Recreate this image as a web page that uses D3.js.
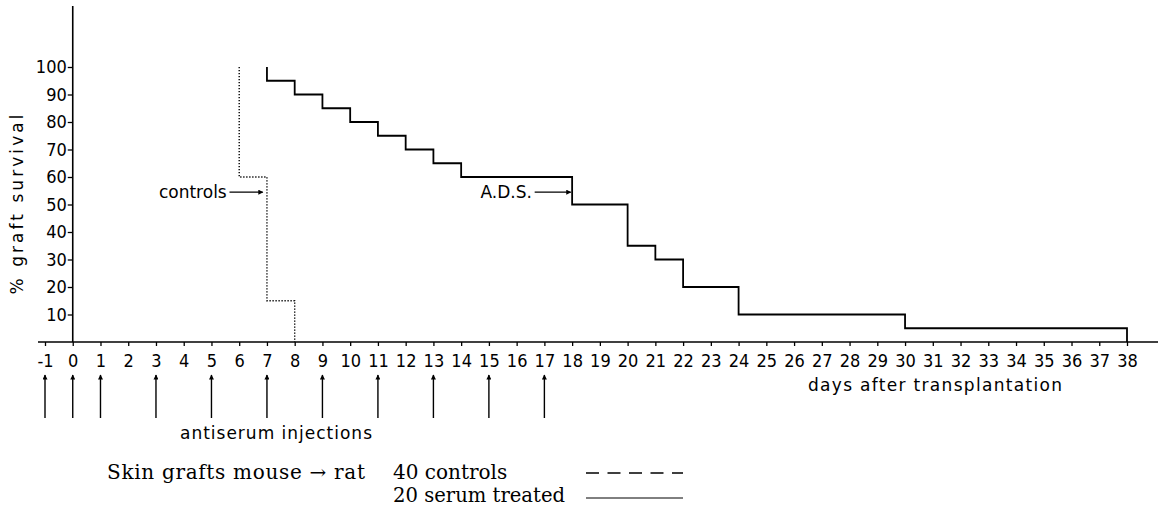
<!DOCTYPE html>
<html><head><meta charset="utf-8">
<script src="https://cdn.jsdelivr.net/npm/d3@7"></script>
<style>
body{margin:0;background:#fff;}
svg{display:block;}
.sans{font-family:"DejaVu Sans Condensed","DejaVu Sans",sans-serif;font-stretch:condensed;}
.lab{font-family:"DejaVu Sans",sans-serif;}
.serif{font-family:"DejaVu Serif","Liberation Serif",serif;}
</style></head>
<body>
<svg id="c" width="1161" height="513"></svg>
<script>
// ---- data ----
const dayTicks = d3.range(-1, 39);
const survivalTicks = [10,20,30,40,50,60,70,80,90,100];
const controlsDays   = [6, 6, 7, 7, 8, 8];
const controlsValues = [100, 60, 60, 15, 15, 0];
const adsDays   = [7, 7, 8, 8, 9, 9, 10, 10, 11, 11, 12, 12, 13, 13, 14, 14, 18, 18, 20, 20, 21, 21, 22, 22, 24, 24, 30, 30, 38, 38];
const adsValues = [100, 95, 95, 90, 90, 85, 85, 80, 80, 75, 75, 70, 70, 65, 65, 60, 60, 50, 50, 35, 35, 30, 30, 20, 20, 10, 10, 5, 5, 0];
const injectionDays = [-1, 0, 1, 3, 5, 7, 9, 11, 13, 15, 17];

const svg = d3.select("#c");
const x = d3.scaleLinear().domain([-1, 38]).range([45, 1127]);
const y = d3.scaleLinear().domain([0, 100]).range([342, 67]);

// axes lines
svg.append("line").attr("x1", 38).attr("x2", 1158).attr("y1", y(0)).attr("y2", y(0))
  .attr("stroke", "#000").attr("stroke-width", 1.6);
svg.append("line").attr("x1", x(0)).attr("x2", x(0)).attr("y1", y(0)).attr("y2", 6)
  .attr("stroke", "#000").attr("stroke-width", 1.6);

const xAxis = svg.append("g").attr("class", "sans").attr("transform", `translate(0,${y(0)})`)
  .call(d3.axisBottom(x).tickValues(dayTicks).tickSize(4).tickPadding(8).tickFormat(d => String(d)));
xAxis.select(".domain").remove();
xAxis.selectAll("line").attr("stroke-width", 1.3);
xAxis.selectAll("text").attr("font-size", 18).attr("fill", "#000").attr("font-family", null);

const yAxis = svg.append("g").attr("class", "sans").attr("transform", `translate(${x(0)},0)`)
  .call(d3.axisLeft(y).tickValues(survivalTicks).tickSize(5).tickPadding(1));
yAxis.select(".domain").remove();
yAxis.selectAll("line").attr("stroke-width", 1.3);
yAxis.selectAll("text").attr("font-size", 18).attr("fill", "#000").attr("font-family", null);

// y label
svg.append("text").attr("class", "lab").attr("transform", `translate(23,${y(50)}) rotate(-90)`)
  .attr("text-anchor", "middle").attr("font-size", 17).attr("textLength", 180).attr("lengthAdjust", "spacing")
  .text("% graft survival");
// x label
svg.append("text").attr("class", "lab").attr("x", 808).attr("y", 391)
  .attr("font-size", 17).attr("textLength", 254).attr("lengthAdjust", "spacing").text("days after transplantation");

// series
const line = d3.line().x(d => x(d[0])).y(d => y(d[1]));
svg.append("path").datum(controlsDays.map((d, i) => [d, controlsValues[i]]))
  .attr("d", line).attr("fill", "none").attr("stroke", "#000").attr("stroke-width", 1.4)
  .attr("stroke-dasharray", "1.3,1.7");
svg.append("path").datum(adsDays.map((d, i) => [d, adsValues[i]]))
  .attr("d", line).attr("fill", "none").attr("stroke", "#000").attr("stroke-width", 1.8);

// arrow marker
const defs = svg.append("defs");
defs.append("marker").attr("id", "ah").attr("viewBox", "0 0 10 10").attr("refX", 9).attr("refY", 5)
  .attr("markerWidth", 8).attr("markerHeight", 5).attr("markerUnits", "userSpaceOnUse")
  .attr("orient", "auto").append("path").attr("d", "M0,0L10,5L0,10Z").attr("fill", "#000");

// annotations
svg.append("text").attr("class", "lab").attr("x", x(5.55)).attr("y", y(52.5)).attr("text-anchor", "end")
  .attr("font-size", 17).text("controls");
svg.append("line").attr("x1", x(5.65)).attr("x2", x(6.85)).attr("y1", y(54.5)).attr("y2", y(54.5))
  .attr("stroke", "#000").attr("stroke-width", 1.3).attr("marker-end", "url(#ah)");
svg.append("text").attr("class", "lab").attr("x", x(16.55)).attr("y", y(52.5)).attr("text-anchor", "end")
  .attr("font-size", 17).text("A.D.S.");
svg.append("line").attr("x1", x(16.65)).attr("x2", x(17.95)).attr("y1", y(54.5)).attr("y2", y(54.5))
  .attr("stroke", "#000").attr("stroke-width", 1.3).attr("marker-end", "url(#ah)");

// injection arrows
svg.append("g").selectAll("line").data(injectionDays).join("line")
  .attr("x1", d => x(d)).attr("x2", d => x(d)).attr("y1", 418).attr("y2", 375)
  .attr("stroke", "#000").attr("stroke-width", 1.4).attr("marker-end", "url(#ah)");
svg.append("text").attr("class", "lab").attr("x", 180).attr("y", 439)
  .attr("font-size", 17).attr("textLength", 192).attr("lengthAdjust", "spacing").text("antiserum injections");

// legend
svg.append("text").attr("class", "serif").attr("x", 107).attr("y", 479).attr("font-size", 20)
  .attr("textLength", 258).attr("lengthAdjust", "spacing").text("Skin grafts mouse \u2192 rat");
svg.append("text").attr("class", "serif").attr("x", 393).attr("y", 479).attr("font-size", 20).text("40 controls");
svg.append("text").attr("class", "serif").attr("x", 393).attr("y", 502).attr("font-size", 20)
  .attr("textLength", 172).attr("lengthAdjust", "spacingAndGlyphs").text("20 serum treated");
svg.append("line").attr("x1", 586).attr("x2", 683).attr("y1", 473).attr("y2", 473)
  .attr("stroke", "#000").attr("stroke-width", 1.3).attr("stroke-dasharray", "13,8.5");
svg.append("line").attr("x1", 586).attr("x2", 683).attr("y1", 498).attr("y2", 498)
  .attr("stroke", "#000").attr("stroke-width", 1);
</script>
</body></html>
